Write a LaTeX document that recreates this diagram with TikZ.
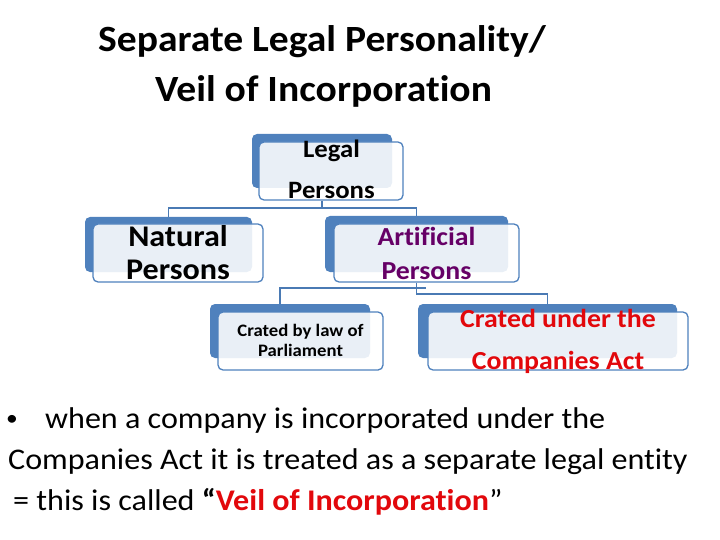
\documentclass[tikz,border=0pt]{standalone}
\usepackage{fontspec}
\setmainfont[FakeStretch=1.07,Ligatures=NoCommon]{Carlito}
\definecolor{boxblue}{RGB}{79,129,189}
\definecolor{linkblue}{RGB}{74,122,180}
\definecolor{artpurple}{RGB}{102,0,102}
\definecolor{actred}{RGB}{226,8,12}
\begin{document}
\begin{tikzpicture}[x=1pt,y=-1pt,
  backbox/.style n args={2}{fill=boxblue, rounded corners=5pt, inner sep=0pt, minimum width=#1, minimum height=#2},
  frontbox/.style n args={2}{draw=boxblue, line width=1.3pt, fill=white, fill opacity=0.88, rounded corners=5pt, inner sep=0pt, minimum width=#1, minimum height=#2},
  txt/.style={anchor=base, inner sep=0pt},
  bodytxt/.style={anchor=base west, inner sep=0pt, font=\fontsize{30}{36}\selectfont},
  link/.style={draw=linkblue, line width=1.4pt}]
\useasboundingbox (0,0) rectangle (720,540);

% title
\node[txt, font=\bfseries\fontsize{37}{44}\selectfont] (title1) at (322,52) {Separate Legal Personality/};
\node[txt, font=\bfseries\fontsize{37}{44}\selectfont] (title2) at (323.5,102) {Veil of Incorporation};

% back boxes
\node[backbox={140pt}{54pt}] (legalB) at (322,161) {};
\node[backbox={167pt}{55pt}] (natB) at (168.5,244.5) {};
\node[backbox={183pt}{56pt}] (artB) at (416.5,244) {};
\node[backbox={160pt}{54pt}] (parB) at (290,331) {};
\node[backbox={259pt}{54pt}] (compB) at (547.5,331) {};

% front boxes
\node[frontbox={144pt}{58pt}] (legal) at (331,171) {};
\node[frontbox={170pt}{58pt}] (nat) at (178,253) {};
\node[frontbox={185pt}{58pt}] (art) at (426.5,253) {};
\node[frontbox={165pt}{58pt}] (par) at (300.5,341) {};
\node[frontbox={260pt}{58pt}] (comp) at (558,341) {};

% box texts
\node[txt, font=\bfseries\fontsize{25}{30}\selectfont] (legalT1) at (331.5,158) {Legal};
\node[txt, font=\bfseries\fontsize{25}{30}\selectfont] (legalT2) at (331.5,198.5) {Persons};
\node[txt, font=\bfseries\fontsize{30}{36}\selectfont] (natT1) at (178,246.5) {Natural};
\node[txt, font=\bfseries\fontsize{30}{36}\selectfont] (natT2) at (178,279) {Persons};
\node[txt, text=artpurple, font=\bfseries\fontsize{26}{31}\selectfont] (artT1) at (426.5,245) {Artificial};
\node[txt, text=artpurple, font=\bfseries\fontsize{26}{31}\selectfont] (artT2) at (426.5,279) {Persons};
\node[txt, font=\bfseries\fontsize{17.5}{21}\selectfont] (parT1) at (300.5,336.5) {Crated by law of};
\node[txt, font=\bfseries\fontsize{17.5}{21}\selectfont] (parT2) at (300.5,356.5) {Parliament};
\node[txt, text=actred, font=\bfseries\fontsize{26}{31}\selectfont] (compT1) at (558,327.5) {Crated under the};
\node[txt, text=actred, font=\bfseries\fontsize{26}{31}\selectfont] (compT2) at (558,369) {Companies Act};

% connectors
\coordinate (j1) at (322,208);
\draw[link] (legalB.south |- legal.south) -- (j1);
\draw[link] (natB.north) |- (j1) -| (artB.north);
\coordinate (j3) at (416.5,294);
\coordinate (j4) at (280,288);
\coordinate (j5) at (426,288);
\draw[link] (artB.south |- art.south) -- (j3) -| (compB.north);
\draw[link] (parB.north -| j4) -- (j4) -- (j5);

% body text
\node[anchor=base west, inner sep=0pt, font=\fontsize{22}{26}\selectfont] (bul) at (6,425) {•};
\node[bodytxt] (line1) at (45,428) {when a company is incorporated under the};
\node[bodytxt] (line2) at (8,469) {Companies Act it is treated as a separate legal entity};
\node[bodytxt] (line3) at (13,510) {= this is called {\bfseries “}\textcolor{actred}{\bfseries Veil of Incorporation}”};
\end{tikzpicture}
\end{document}
